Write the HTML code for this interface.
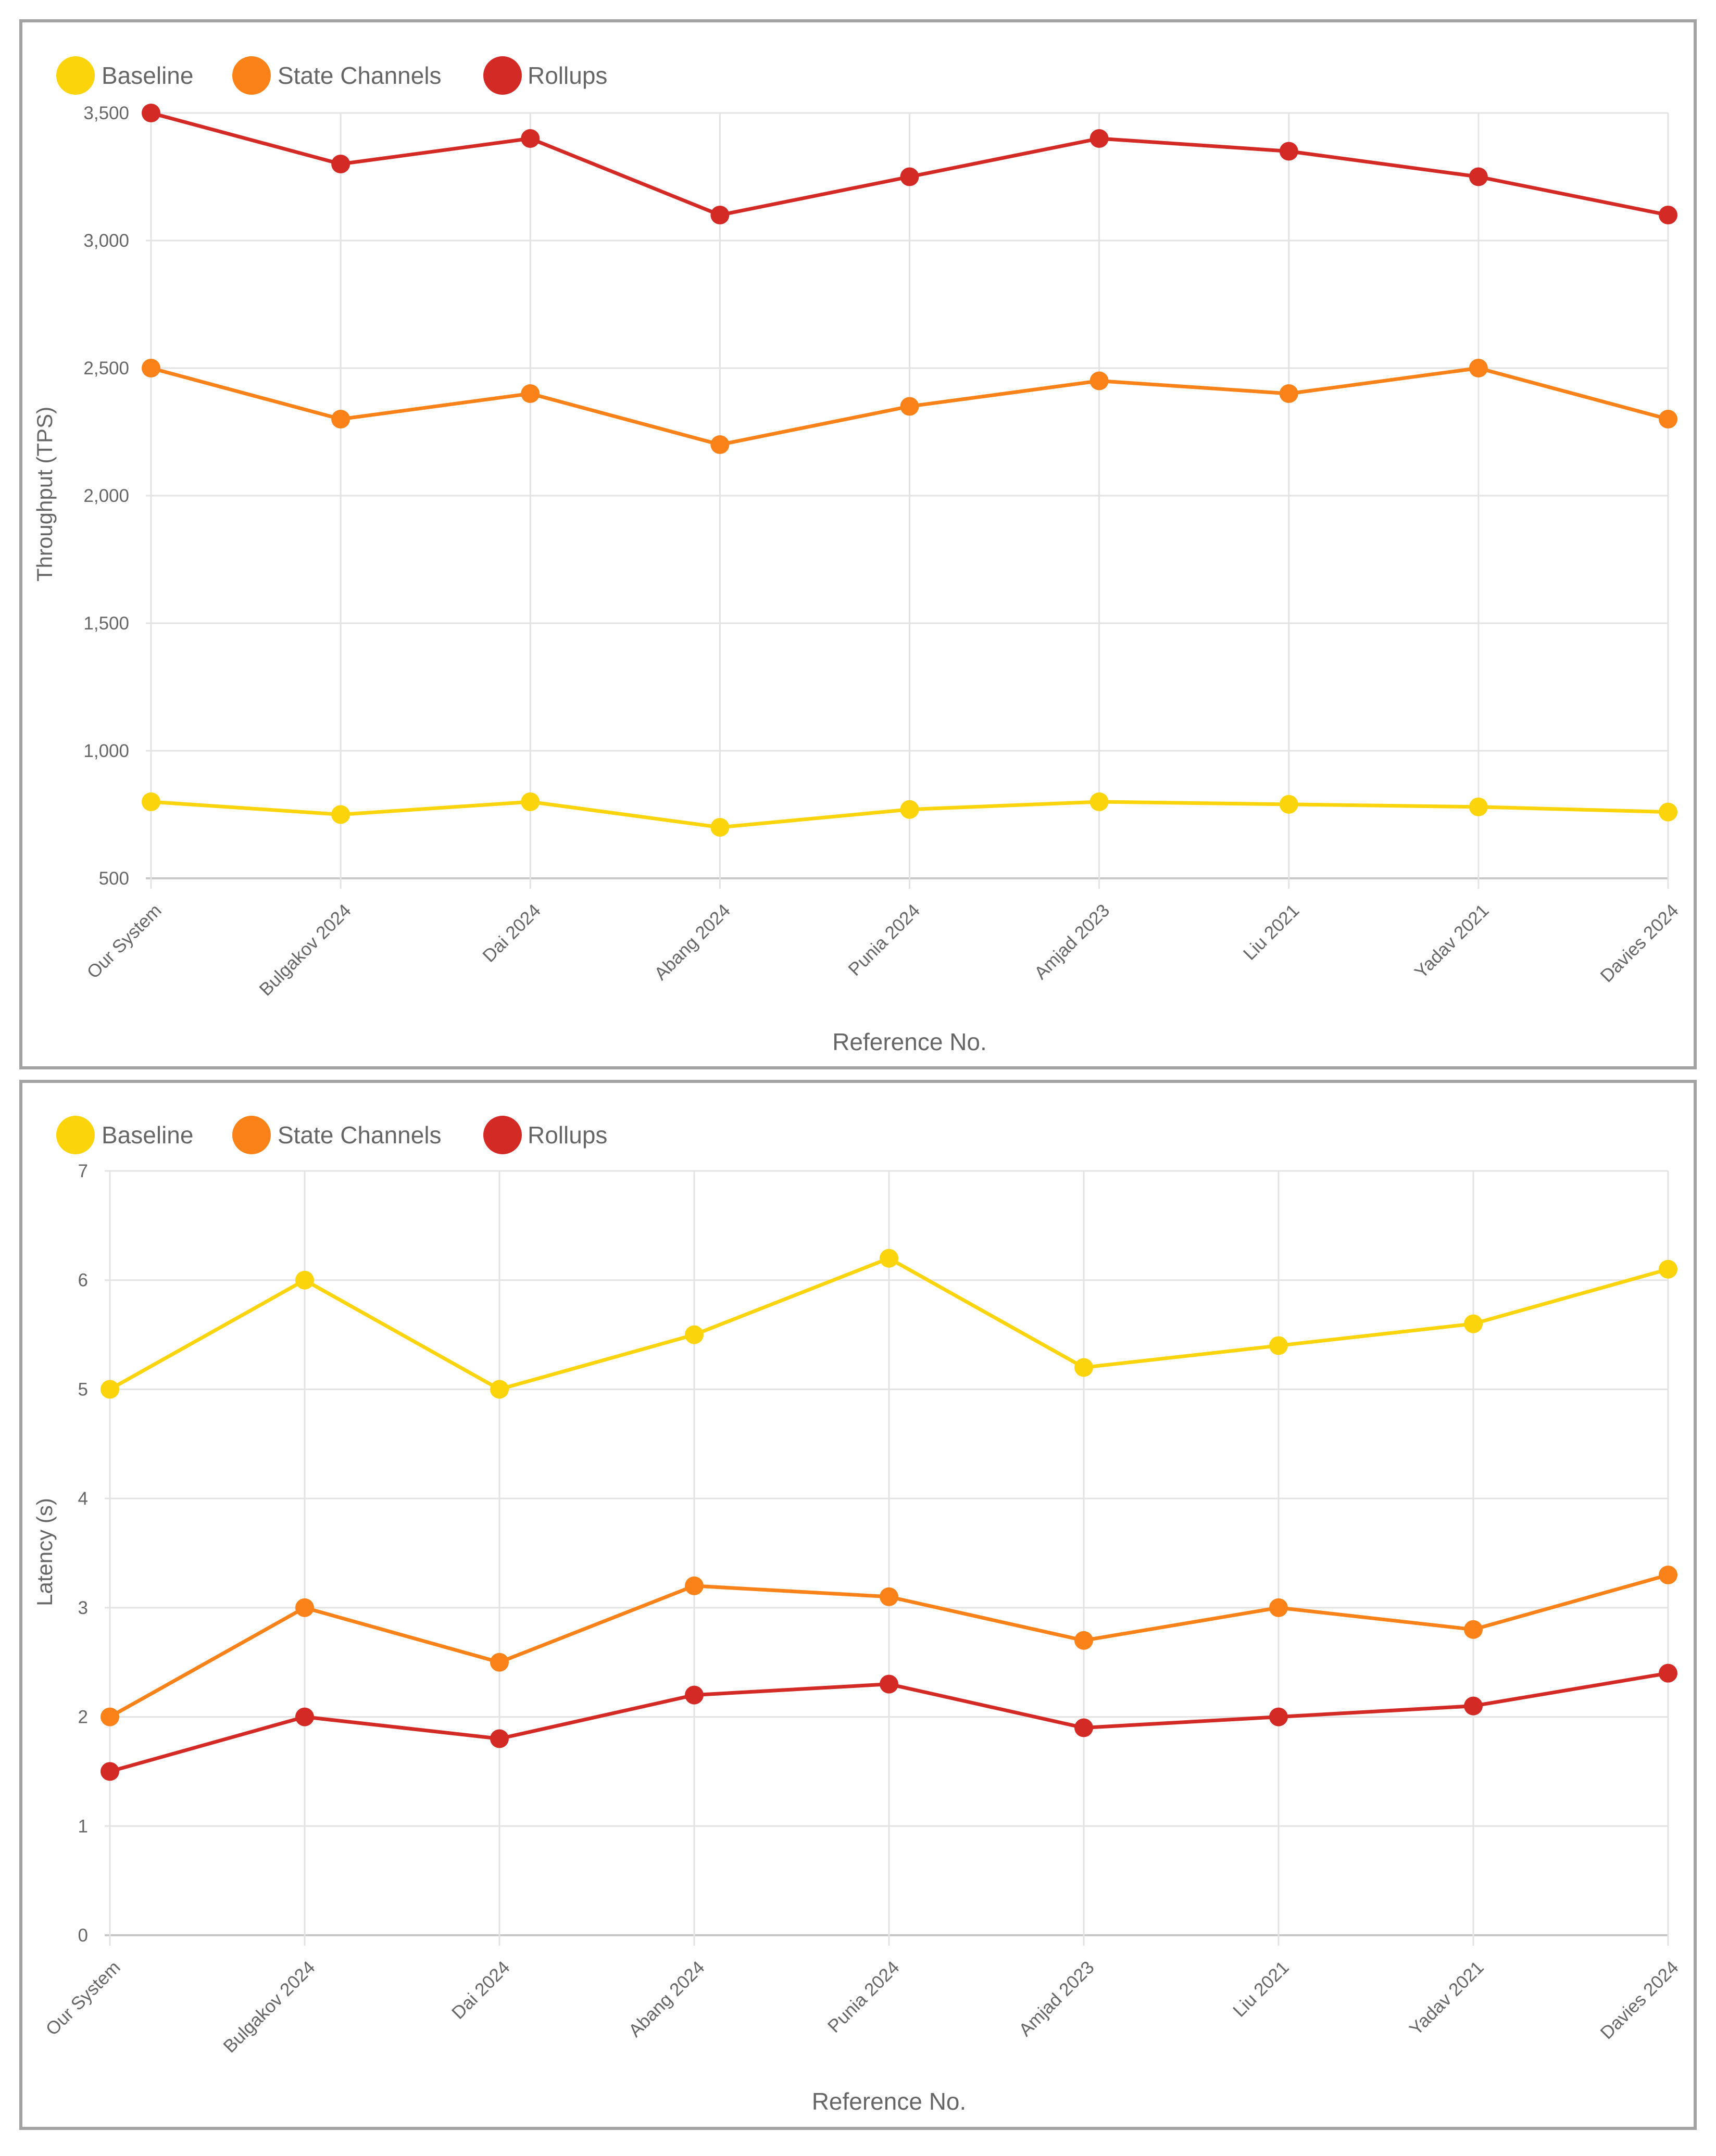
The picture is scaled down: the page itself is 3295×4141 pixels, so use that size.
<!DOCTYPE html>
<html><head><meta charset="utf-8"><style>
html,body{margin:0;padding:0;background:#fff;width:3295px;height:4141px;overflow:hidden}
svg{display:block;font-family:"Liberation Sans",sans-serif}
</style></head><body>
<svg id="svg" width="3295" height="4141"></svg>
<script>
const categories=["Our System","Bulgakov 2024","Dai 2024","Abang 2024","Punia 2024","Amjad 2023","Liu 2021","Yadav 2021","Davies 2024"];
const seriesNames=["Baseline","State Channels","Rollups"];
const tpBaseline=[800,750,800,700,770,800,790,780,760];
const tpState=[2500,2300,2400,2200,2350,2450,2400,2500,2300];
const tpRollups=[3500,3300,3400,3100,3250,3400,3350,3250,3100];
const latBaseline=[5,6,5,5.5,6.2,5.2,5.4,5.6,6.1];
const latState=[2,3,2.5,3.2,3.1,2.7,3,2.8,3.3];
const latRollups=[1.5,2,1.8,2.2,2.3,1.9,2,2.1,2.4];
const tpTicks=[500,1000,1500,2000,2500,3000,3500];
const latTicks=[0,1,2,3,4,5,6,7];
const colors=["#FBD40B","#FA8219","#D42A26"];
const NS="http://www.w3.org/2000/svg";
const svg=document.getElementById('svg');
function mk(tag,attrs,parent,text){const e=document.createElementNS(NS,tag);for(const k in attrs)e.setAttribute(k,attrs[k]);if(text!==undefined)e.textContent=text;(parent||svg).appendChild(e);return e;}
function fmt(v){return v.toLocaleString('en-US');}
function chart(cfg){
  const g=mk('g',{});
  
  
  const fr=mk('rect',{x:40,y:cfg.top,width:3215,height:cfg.h,fill:'#fff',stroke:'#a3a3a3','stroke-width':6},g);
  
  
  const x0=cfg.x0,x1=3203,n=categories.length;
  const xs=i=>x0+(x1-x0)*i/(n-1);
  const ys=v=>cfg.yBot+(cfg.yTop-cfg.yBot)*(v-cfg.min)/(cfg.max-cfg.min);
  cfg.ticks.forEach(t=>{
    const l=mk('line',{x1:x0-10,x2:x1,y1:ys(t),y2:ys(t),stroke:t===cfg.min?'#c8c8c8':'#e3e3e3','stroke-width':t===cfg.min?4:3},g);
    
    
    const tx=mk('text',{x:x0-42,y:ys(t)+12,'text-anchor':'end','font-size':35,fill:'#666'},g,fmt(t));
    
    
  });
  categories.forEach((c,i)=>{
    const l=mk('line',{x1:xs(i),x2:xs(i),y1:cfg.yTop,y2:cfg.yBot+20,stroke:'#e3e3e3','stroke-width':3},g);
    
    
    const tx=mk('text',{x:0,y:0,'text-anchor':'end','font-size':35,fill:'#666',transform:`translate(${xs(i)+22},${cfg.yBot+64}) rotate(-45)`},g,c);
    
    
  });
  cfg.series.forEach((arr,s)=>{
    const pts=arr.map((v,i)=>xs(i)+','+ys(v)).join(' ');
    const pl=mk('polyline',{points:pts,fill:'none',stroke:colors[s],'stroke-width':7,'stroke-linejoin':'round'},g);
    
    
    arr.forEach((v,i)=>{
      const c=mk('circle',{cx:xs(i),cy:ys(v),r:18,fill:colors[s]},g);
      
      
    });
  });
  const lx=[145,483,965],tx=[195,533,1013];
  seriesNames.forEach((nm,s)=>{
    const c=mk('circle',{cx:lx[s],cy:cfg.legY,r:37,fill:colors[s]},g);
    
    
    const t=mk('text',{x:tx[s],y:cfg.legY+16,'font-size':46,fill:'#666'},g,nm);
    
    
  });
  const yt=mk('text',{x:0,y:0,'text-anchor':'middle','font-size':42,fill:'#666',transform:`translate(100,${cfg.yTitleY}) rotate(-90)`},g,cfg.yTitle);
  
  
  const xt=mk('text',{x:(x0+x1)/2,y:cfg.xTitleY,'text-anchor':'middle','font-size':46,fill:'#666'},g,'Reference No.');
  
  
}
chart({name:'throughput-chart',top:40,h:2011,x0:290,yTop:217,yBot:1687,min:500,max:3500,ticks:tpTicks,series:[tpBaseline,tpState,tpRollups],legY:145,yTitle:'Throughput (TPS)',yTitleY:949,xTitleY:2017});
chart({name:'latency-chart',top:2077,h:2011,x0:211,yTop:2249,yBot:3717,min:0,max:7,ticks:latTicks,series:[latBaseline,latState,latRollups],legY:2180,yTitle:'Latency (s)',yTitleY:2981,xTitleY:4052});
</script>
</body></html>
